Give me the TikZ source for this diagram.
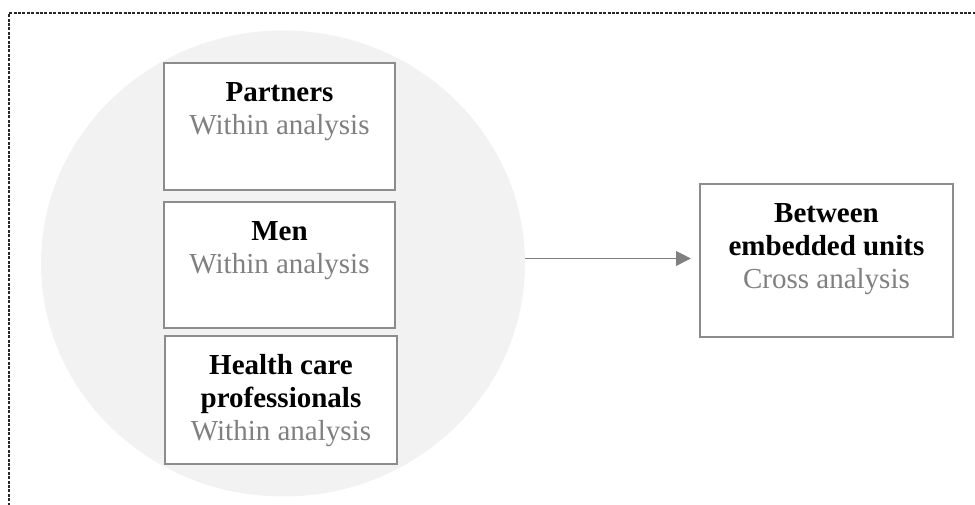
\documentclass[tikz,border=0pt]{standalone}
\usepackage{fontspec}
\setmainfont{Liberation Serif}
\usetikzlibrary{arrows.meta,shapes.geometric}

\definecolor{groupfill}{RGB}{242,242,242}
\definecolor{boxline}{RGB}{140,140,140}
\definecolor{subtext}{RGB}{128,128,128}
\definecolor{arrowgray}{RGB}{128,128,128}
\definecolor{framedash}{RGB}{40,40,40}

% text block of a unit box: bold title lines, grey analysis line, set from the top
\newcommand{\unittext}[4]{%
  \parbox[c][#2][t]{#1}{\centering
    \fontsize{21.75pt}{24.75pt}\selectfont
    \rule{0pt}{29.25pt}\textbf{#3}\\
    \textcolor{subtext}{#4}}}

\begin{document}
\begin{tikzpicture}[x=0.75pt,y=-0.75pt,
  unitbox/.style={draw=boxline, line width=1.1pt, fill=white,
    rectangle, inner sep=0pt, outer sep=0pt},
  group/.style={ellipse, fill=groupfill, draw=none, inner sep=0pt,
    minimum width=363pt, minimum height=349.5pt},
  flow/.style={draw=arrowgray, line width=1pt,
    -{Triangle[length=11.25pt,width=11pt]}},
  frame/.style={draw=framedash, line width=0.8pt,
    dash pattern=on 2.2pt off 1.1pt}]

\useasboundingbox (0,0) rectangle (975,505);

% dotted outline of the surrounding frame
\draw[frame] (9,510) -- (9,13) -- (980,13);

% shaded group holding the embedded units
\node[group] (units) at (283,263.5) {};

\node[unitbox] (partners) at (279.5,126.5)
  {\unittext{173.25pt}{95.25pt}{Partners}{Within analysis}};
\node[unitbox] (men) at (279.5,265)
  {\unittext{173.25pt}{94.5pt}{Men}{Within analysis}};
\node[unitbox] (hcp) at (281,400)
  {\unittext{174pt}{96pt}{Health care\\professionals}{Within analysis}};

\node[unitbox] (cross) at (826.5,260.5)
  {\unittext{189.75pt}{114.75pt}{Between\\embedded units}{Cross analysis}};

\coordinate (tip) at (691,258.5);
\draw[flow] (units.east |- tip) -- (tip);
\end{tikzpicture}
\end{document}
